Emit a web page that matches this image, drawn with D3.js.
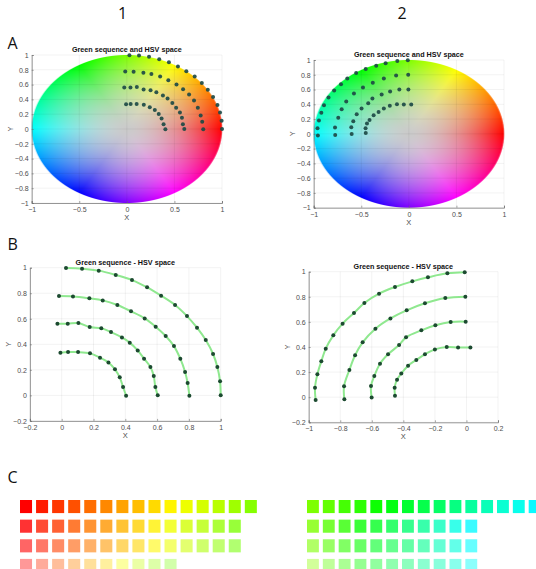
<!DOCTYPE html>
<html><head><meta charset="utf-8">
<script src="https://cdn.jsdelivr.net/npm/d3@7"></script>
<style>html,body{margin:0;padding:0;background:#fff;}svg{display:block;}</style>
</head><body>
<script>
// ---------- DATA ----------
// Sequence 1 (red -> green), ordered from hue 0 towards hue 90
const seq1Arc1X = [1.0, 0.996, 0.979, 0.952, 0.906, 0.851, 0.788, 0.713, 0.625, 0.537, 0.442, 0.34, 0.233, 0.128, 0.027];
const seq1Arc1Y = [0.0, 0.11, 0.222, 0.324, 0.433, 0.53, 0.621, 0.708, 0.781, 0.846, 0.903, 0.943, 0.977, 0.992, 0.997];
const seq1Arc2X = [0.803, 0.792, 0.776, 0.746, 0.706, 0.654, 0.591, 0.522, 0.436, 0.35, 0.258, 0.174, 0.071, -0.017];
const seq1Arc2Y = [-0.003, 0.097, 0.183, 0.287, 0.386, 0.465, 0.538, 0.603, 0.658, 0.708, 0.744, 0.76, 0.775, 0.778];
const seq1Arc3X = [0.604, 0.589, 0.579, 0.558, 0.518, 0.478, 0.428, 0.379, 0.31, 0.249, 0.176, 0.105, 0.038, -0.027];
const seq1Arc3Y = [0.0, 0.065, 0.151, 0.222, 0.287, 0.352, 0.413, 0.454, 0.496, 0.525, 0.535, 0.567, 0.561, 0.561];
const seq1Arc4X = [0.405, 0.386, 0.365, 0.335, 0.294, 0.241, 0.178, 0.103, 0.04, -0.008];
const seq1Arc4Y = [-0.003, 0.065, 0.141, 0.204, 0.258, 0.295, 0.329, 0.339, 0.339, 0.334];
// Sequence 2 (green -> cyan), ordered from hue 90 towards hue 180
const seq2Arc1X = [-0.011, -0.121, -0.244, -0.343, -0.453, -0.554, -0.647, -0.713, -0.785, -0.844, -0.892, -0.92, -0.945, -0.96, -0.956];
const seq2Arc1Y = [0.995, 0.987, 0.955, 0.923, 0.878, 0.825, 0.75, 0.671, 0.586, 0.493, 0.387, 0.286, 0.182, 0.076, -0.022];
const seq2Arc2X = [-0.007, -0.134, -0.263, -0.379, -0.482, -0.577, -0.658, -0.706, -0.742, -0.776, -0.774];
const seq2Arc2Y = [0.801, 0.79, 0.748, 0.692, 0.628, 0.546, 0.437, 0.334, 0.217, 0.087, -0.017];
const seq2Arc3X = [-0.005, -0.1, -0.197, -0.286, -0.383, -0.427, -0.497, -0.548, -0.584, -0.605, -0.601];
const seq2Arc3Y = [0.602, 0.599, 0.573, 0.533, 0.477, 0.416, 0.342, 0.267, 0.169, 0.089, -0.003];
const seq2Arc4X = [0.025, -0.053, -0.125, -0.2, -0.263, -0.318, -0.37, -0.413, -0.44, -0.455, -0.453];
const seq2Arc4Y = [0.397, 0.397, 0.4, 0.381, 0.342, 0.297, 0.251, 0.188, 0.14, 0.076, 0.012];

const ticksA_X = [-1, -0.5, 0, 0.5, 1];
const ticksA_Y = [-1, -0.8, -0.6, -0.4, -0.2, 0, 0.2, 0.4, 0.6, 0.8, 1];
const ticksB1_X = [-0.2, 0, 0.2, 0.4, 0.6, 0.8, 1];
const ticksB2_X = [-1, -0.8, -0.6, -0.4, -0.2, 0, 0.2];
const ticksB_Y = [-0.2, 0, 0.2, 0.4, 0.6, 0.8, 1];

const columnLabels = ["1", "2"];
const rowLabels = ["A", "B", "C"];
const titleA = "Green sequence and HSV space";
const titleB = "Green sequence - HSV space";

// ---------- HELPERS ----------
function zip(xs, ys){ return xs.map((x,i)=>({x:x, y:ys[i]})); }
const seq1 = [zip(seq1Arc1X,seq1Arc1Y), zip(seq1Arc2X,seq1Arc2Y), zip(seq1Arc3X,seq1Arc3Y), zip(seq1Arc4X,seq1Arc4Y)];
const seq2 = [zip(seq2Arc1X,seq2Arc1Y), zip(seq2Arc2X,seq2Arc2Y), zip(seq2Arc3X,seq2Arc3Y), zip(seq2Arc4X,seq2Arc4Y)];

function hsv2rgb(h, s, v){
  const f = n => { const k = (n + h/60) % 6; return v - v*s*Math.max(0, Math.min(k, 4-k, 1)); };
  return [f(5), f(3), f(1)].map(c => Math.round(c*255));
}
function pointColor(p){
  let h = Math.atan2(p.y, p.x) * 180 / Math.PI; if (h < 0) h += 360;
  const s = Math.min(1, Math.hypot(p.x, p.y));
  const c = hsv2rgb(h, s, 1);
  return `rgb(${c[0]},${c[1]},${c[2]})`;
}

const W = 536, H = 569;
const svg = d3.select("body").append("svg").attr("width", W).attr("height", H);

const tickFont = "'Liberation Sans', Arial, sans-serif";
const headFont = "'Open Sans', 'Liberation Sans', sans-serif";

function drawAxes(cfg){
  const x = d3.scaleLinear().domain(cfg.xd).range(cfg.xr);
  const y = d3.scaleLinear().domain(cfg.yd).range(cfg.yr);
  const g = svg.append("g");
  const L = cfg.xr[0], R = cfg.xr[1], B = cfg.yr[0], T = cfg.yr[1];
  // background disk
  if (cfg.disk){
    const w = Math.ceil(R - L), h = Math.ceil(B - T);
    const sc = 2;
    const cv = document.createElement("canvas");
    cv.width = w*sc; cv.height = h*sc;
    const ctx = cv.getContext("2d");
    const img = ctx.createImageData(w*sc, h*sc);
    for (let j = 0; j < h*sc; j++){
      for (let i = 0; i < w*sc; i++){
        const dx = x.invert(L + (i+0.5)/sc), dy = y.invert(T + (j+0.5)/sc);
        const r = Math.hypot(dx, dy);
        const edgePx = (1 - r) * Math.min(w, h) / 2 * sc;
        const a = Math.max(0, Math.min(1, edgePx + 0.5));
        if (a <= 0) continue;
        let hh = Math.atan2(dy, dx) * 180 / Math.PI; if (hh < 0) hh += 360;
        const rr = Math.min(1, r);
        const s = Math.pow(rr, 1.5);
        const v = 0.79 + 0.21 * rr;
        const c = hsv2rgb(hh, s, v);
        const k = (j*w*sc + i)*4;
        img.data[k] = c[0]; img.data[k+1] = c[1]; img.data[k+2] = c[2]; img.data[k+3] = Math.round(a*255);
      }
    }
    ctx.putImageData(img, 0, 0);
    g.append("image").attr("x", L).attr("y", T).attr("width", w).attr("height", h)
      .attr("preserveAspectRatio", "none").attr("href", cv.toDataURL());
  }
  // grid
  g.append("g").selectAll("line.gx").data(cfg.tx).join("line")
    .attr("x1", d=>x(d)).attr("x2", d=>x(d)).attr("y1", T).attr("y2", B)
    .attr("stroke", "#000").attr("stroke-opacity", 0.09).attr("stroke-width", 0.6);
  g.append("g").selectAll("line.gy").data(cfg.ty).join("line")
    .attr("x1", L).attr("x2", R).attr("y1", d=>y(d)).attr("y2", d=>y(d))
    .attr("stroke", "#000").attr("stroke-opacity", 0.09).attr("stroke-width", 0.6);
  // axes
  const xa = d3.axisBottom(x).tickValues(cfg.tx).tickSize(-2).tickPadding(3).tickFormat(d3.format("~g"));
  const ya = d3.axisLeft(y).tickValues(cfg.ty).tickSize(-2).tickPadding(3).tickFormat(d3.format("~g"));
  const gx = g.append("g").attr("transform", `translate(0,${B})`).call(xa);
  const gy = g.append("g").attr("transform", `translate(${L},0)`).call(ya);
  [gx, gy].forEach(a => {
    a.select(".domain").attr("stroke", "#6b6b6b").attr("stroke-width", 0.7);
    a.selectAll(".tick line").attr("stroke", "#6b6b6b").attr("stroke-width", 0.6);
    a.selectAll(".tick text").attr("fill", "#4d4d4d").attr("font-size", 7).attr("font-family", tickFont);
  });
  gx.selectAll(".tick text").attr("dy", "0.71em").attr("y", 4);
  // labels
  g.append("text").attr("x", (L+R)/2).attr("y", B + 17).attr("text-anchor", "middle")
    .attr("font-size", 7.5).attr("fill", "#4d4d4d").attr("font-family", tickFont).text("X");
  g.append("text").attr("transform", `translate(${L-19},${(T+B)/2}) rotate(-90)`).attr("text-anchor", "middle")
    .attr("font-size", 7.5).attr("fill", "#4d4d4d").attr("font-family", tickFont).text("Y");
  g.append("text").attr("x", (L+R)/2).attr("y", T - 3).attr("text-anchor", "middle")
    .attr("font-size", 7.2).attr("font-weight", "bold").attr("fill", "#111").attr("font-family", tickFont).text(cfg.title);
  // lines
  if (cfg.lines){
    const line = d3.line().x(d=>x(d.x)).y(d=>y(d.y)).curve(d3.curveCatmullRom);
    g.append("g").selectAll("path").data(cfg.data).join("path")
      .attr("d", line).attr("fill", "none").attr("stroke", "#8fe88f").attr("stroke-width", 2);
  }
  // points
  g.append("g").selectAll("g").data(cfg.data).join("g")
    .selectAll("circle").data(d=>d).join("circle")
    .attr("cx", d=>x(d.x)).attr("cy", d=>y(d.y)).attr("r", 2)
    .attr("fill", cfg.dot).attr("fill-opacity", cfg.dotOpacity);
}

drawAxes({xd:[-1,1], yd:[-1,1], xr:[31.7,222], yr:[203,55], tx:ticksA_X, ty:ticksA_Y, title:titleA, disk:true, data:seq1, dot:"#1d4a45", dotOpacity:0.92});
drawAxes({xd:[-1,1], yd:[-1,1], xr:[313.7,504], yr:[207.7,60], tx:ticksA_X, ty:ticksA_Y, title:titleA, disk:true, data:seq2, dot:"#1d4a45", dotOpacity:0.92});
drawAxes({xd:[-0.2,1], yd:[-0.2,1], xr:[29.9,220.7], yr:[420.9,267.7], tx:ticksB1_X, ty:ticksB_Y, title:titleB, lines:true, data:seq1, dot:"#1c4a30", dotOpacity:1});
drawAxes({xd:[-1,0.2], yd:[-0.2,1], xr:[308.7,498], yr:[422.3,271.7], tx:ticksB2_X, ty:ticksB_Y, title:titleB, lines:true, data:seq2, dot:"#1c4a30", dotOpacity:1});

// headers
svg.selectAll("text.col").data(columnLabels).join("text")
  .attr("x", (d,i)=> [122.7, 402][i]).attr("y", 19).attr("text-anchor", "middle")
  .attr("font-size", 16).attr("font-family", headFont).attr("fill", "#111").text(d=>d);
svg.selectAll("text.row").data(rowLabels).join("text")
  .attr("x", 7.5).attr("y", (d,i)=> [49, 250, 483][i])
  .attr("font-size", 16).attr("font-family", headFont).attr("fill", "#111").text(d=>d);

// C: colour squares
function drawSwatches(seq, x0, step){
  const maxN = d3.max(seq, s=>s.length);
  const xb = d3.scaleBand().domain(d3.range(maxN)).range([x0, x0 + step*maxN]).paddingInner(0.25).paddingOuter(0);
  const yb = d3.scaleBand().domain(d3.range(seq.length)).range([500, 500 + 18*seq.length]).paddingInner(0.333).paddingOuter(0);
  svg.append("g").selectAll("g").data(seq).join("g")
    .attr("transform", (d,i)=>`translate(0,${yb(i)})`)
    .selectAll("rect").data(d=>d).join("rect")
    .attr("x", (d,i)=>xb(i)).attr("y", 0).attr("width", xb.bandwidth()).attr("height", yb.bandwidth())
    .attr("fill", d=>pointColor(d));
}
drawSwatches(seq1, 20, 15.79);
drawSwatches(seq2, 307, 15.57);
</script>
</body></html>
